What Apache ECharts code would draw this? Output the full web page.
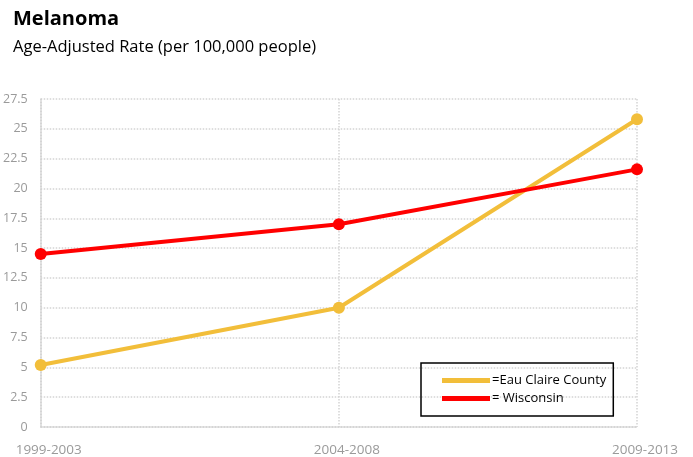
<!DOCTYPE html>
<html>
<head>
<meta charset="utf-8">
<script src="https://cdn.jsdelivr.net/npm/echarts@6/dist/echarts.min.js"></script>
<style>
    html, body { margin: 0; padding: 0; background: #fff; }
    #chart { width: 693px; height: 457px; }
</style>
</head>
<body>
<div id="chart"></div>
<script>
var periods = ['1999-2003', '2004-2008', '2009-2013'];
var eauClaire = [5.2, 10.0, 25.8];
var wisconsin = [14.5, 17.0, 21.6];
var yTicks = { min: 0, max: 27.5, interval: 2.5 };

var gridColor = '#d4d4d4';
var font = 'Open Sans';

var chart = echarts.init(document.getElementById('chart'));
chart.setOption({
    animation: false,
    title: [
        {
            text: 'Melanoma',
            left: 8,
            top: 4,
            textStyle: { fontFamily: font, fontSize: 20, fontWeight: 'bold', color: '#000' }
        },
        {
            text: 'Age-Adjusted Rate (per 100,000 people)',
            left: 8,
            top: 34,
            textStyle: { fontFamily: font, fontSize: 16.5, fontWeight: 'normal', color: '#000' }
        }
    ],
    legend: {
        orient: 'vertical',
        left: 421,
        top: 363,
        padding: [11, 7, 11, 21],
        itemGap: 5,
        itemWidth: 48,
        itemHeight: 5,
        icon: 'rect',
        borderColor: '#000',
        borderWidth: 1.5,
        textStyle: { fontFamily: font, fontSize: 13, color: '#000', padding: [0, 0, 0, -3] },
        data: ['=Eau Claire County', '= Wisconsin']
    },
    grid: { left: 40, right: 56, top: 99, bottom: 29 },
    xAxis: {
        type: 'category',
        boundaryGap: false,
        data: periods,
        axisLine: { lineStyle: { color: gridColor, type: 'dotted', width: 1.5 } },
        axisTick: { show: false },
        splitLine: { show: true, lineStyle: { color: gridColor, type: 'dotted', width: 1.5 } },
        axisLabel: { fontFamily: font, fontSize: 13.5, color: '#9a9a9a', margin: 16, padding: [0, 0, 0, 16] }
    },
    yAxis: {
        type: 'value',
        min: yTicks.min,
        max: yTicks.max,
        interval: yTicks.interval,
        axisLine: { show: true, lineStyle: { color: gridColor, type: 'dotted', width: 1.5 } },
        axisTick: { show: false },
        splitLine: { lineStyle: { color: gridColor, type: 'dotted', width: 1.5 } },
        axisLabel: { fontFamily: font, fontSize: 12.5, color: '#9a9a9a', margin: 13 }
    },
    series: [
        {
            name: '=Eau Claire County',
            type: 'line',
            data: eauClaire,
            symbol: 'circle',
            symbolSize: 12,
            lineStyle: { width: 4, color: '#F2BE3A' },
            itemStyle: { color: '#F2BE3A' }
        },
        {
            name: '= Wisconsin',
            type: 'line',
            data: wisconsin,
            symbol: 'circle',
            symbolSize: 12,
            lineStyle: { width: 4, color: '#FF0000' },
            itemStyle: { color: '#FF0000' }
        }
    ]
});
</script>
</body>
</html>
